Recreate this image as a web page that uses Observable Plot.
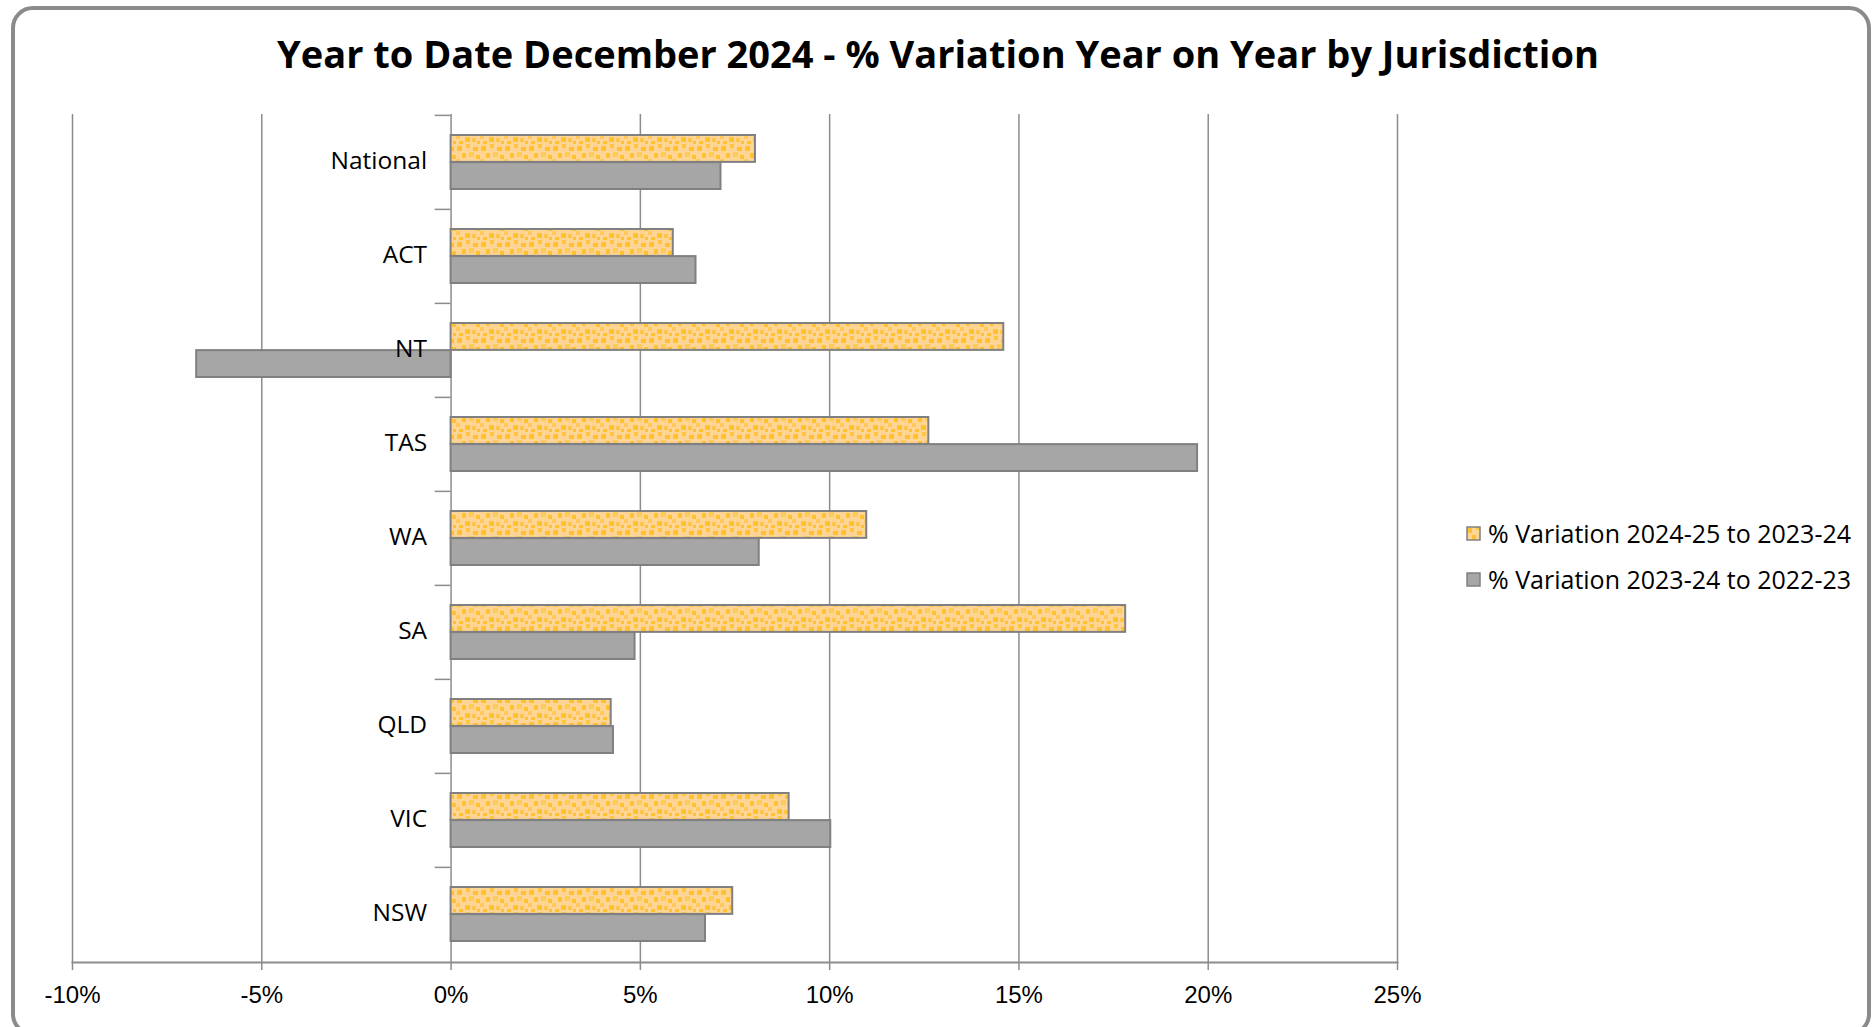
<!DOCTYPE html>
<html>
<head>
<meta charset="utf-8">
<script src="https://cdn.jsdelivr.net/npm/d3@7"></script>
<script src="https://cdn.jsdelivr.net/npm/@observablehq/plot@0.6"></script>
<style>
  html, body { margin: 0; padding: 0; background: #fff; }
  #wrap { position: relative; width: 1876px; height: 1027px; overflow: hidden; }
  #frame { position: absolute; left: 11px; top: 6px; width: 1860px; height: 1030px; box-sizing: border-box;
           border: 4px solid #8b8b8b; border-radius: 22px; }
  #title { position: absolute; left: 0; top: 27px; width: 1876px; text-align: center;
           font-family: "Open Sans", sans-serif; font-weight: 700; font-size: 38px; color: #000; line-height: 52px; }
  #chart { position: absolute; left: 0; top: 0; }
  #legend { position: absolute; left: 1466px; top: 510px; font-family: "Open Sans", sans-serif; font-size: 25px; color: #000; }
  .row { display: flex; align-items: center; height: 46px; }
  .row svg { margin-right: 7px; }
</style>
</head>
<body>
<svg width="0" height="0" style="position:absolute">
  <defs>
    <pattern id="confetti" patternUnits="userSpaceOnUse" width="24" height="24">
      <rect width="24" height="24" fill="#FFD595"></rect>
      <rect x="1" y="2" width="5" height="5" fill="#FFC12F"></rect>
      <rect x="10" y="0" width="4" height="4" fill="#FFC63F"></rect>
      <rect x="17" y="3" width="5" height="4" fill="#FFC12F"></rect>
      <rect x="6" y="9" width="4" height="5" fill="#FFC12F"></rect>
      <rect x="13" y="8" width="5" height="5" fill="#FFCA55"></rect>
      <rect x="20" y="11" width="4" height="4" fill="#FFC12F"></rect>
      <rect x="0" y="15" width="4" height="4" fill="#FFCA55"></rect>
      <rect x="9" y="17" width="5" height="5" fill="#FFC12F"></rect>
      <rect x="16" y="18" width="4" height="4" fill="#FFC63F"></rect>
      <rect x="3" y="21" width="4" height="3" fill="#FFC12F"></rect>
      <rect x="21" y="21" width="3" height="3" fill="#FFC12F"></rect>
    </pattern>
  </defs>
</svg>
<div id="wrap">
  <div id="frame"></div>
  <div id="chart"></div>
  <div id="title">Year to Date December 2024 - % Variation Year on Year by Jurisdiction</div>
  <div id="legend"></div>
</div>
<script>
const categories = ["National", "ACT", "NT", "TAS", "WA", "SA", "QLD", "VIC", "NSW"];
const seriesNames = ["% Variation 2024-25 to 2023-24", "% Variation 2023-24 to 2022-23"];
const var2425 = [8.04, 5.87, 14.6, 12.62, 10.98, 17.82, 4.23, 8.93, 7.44];
const var2324 = [7.13, 6.47, -6.72, 19.72, 8.14, 4.86, 4.29, 10.03, 6.72];
const xTicks = [-10, -5, 0, 5, 10, 15, 20, 25];

const rowsA = categories.map((c, i) => ({cat: c, value: var2425[i]}));
const rowsB = categories.map((c, i) => ({cat: c, value: var2324[i]}));

const W = 1876, H = 1027, mTop = 114, mBottom = 65, mLeft = 72, mRight = 479;
const step = (H - mTop - mBottom) / categories.length;
const gridColor = "#8c8c8c";

const chart = Plot.plot({
  width: W, height: H,
  marginTop: mTop, marginBottom: mBottom, marginLeft: mLeft, marginRight: mRight,
  style: {background: "transparent", overflow: "visible"},
  x: {domain: [-10, 25]},
  y: {type: "band", domain: categories, padding: 0},
  marks: [
    Plot.ruleX(xTicks, {stroke: gridColor, strokeWidth: 1.5}),
    Plot.ruleY(categories, {y: d => d, x1: () => -0.42, x2: () => 0, stroke: gridColor, strokeWidth: 1.5, dy: -step / 2}),
    Plot.frame({anchor: "bottom", stroke: gridColor, strokeWidth: 2}),
    Plot.barX(rowsA, {y: "cat", x: "value", fill: "url(#confetti)", stroke: "#808080", strokeWidth: 2, insetTop: 20, insetBottom: step / 2}),
    Plot.barX(rowsB, {y: "cat", x: "value", fill: "#A6A6A6", stroke: "#808080", strokeWidth: 2, insetTop: step / 2, insetBottom: 20}),
    Plot.axisX({ticks: xTicks, tickSize: 8, tickPadding: 15, tickFormat: d => d + "%", fontSize: 24,
                fontFamily: "Liberation Sans, Arial, sans-serif", stroke: gridColor, strokeWidth: 1.5, fill: "#000", label: null}),
    Plot.axisY({ticks: [], label: null}),
    Plot.text(categories, {y: d => d, x: () => 0, text: d => d, textAnchor: "end", dx: -24, dy: -1,
                fontSize: 24.5, fontFamily: "Open Sans, sans-serif", fill: "#000"})
  ]
});
document.getElementById("chart").appendChild(chart);

const legend = d3.select("#legend");
const fills = ["url(#confetti)", "#A6A6A6"];
seriesNames.forEach((name, i) => {
  const row = legend.append("div").attr("class", "row");
  const s = row.append("svg").attr("width", 15).attr("height", 15);
  s.append("rect").attr("x", 1).attr("y", 1).attr("width", 13).attr("height", 13)
    .attr("fill", fills[i]).attr("stroke", "#808080").attr("stroke-width", 1.5);
  row.append("span").text(name);
});
</script>
</body>
</html>
